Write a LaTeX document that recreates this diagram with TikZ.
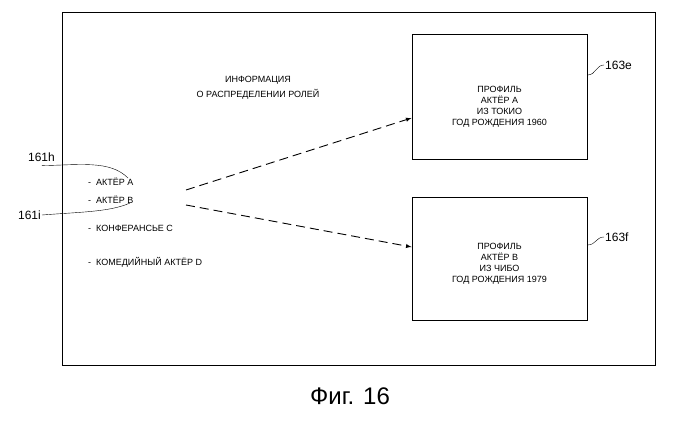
\documentclass[tikz,border=0pt]{standalone}
\usepackage{fontspec}
\setmainfont{Liberation Sans}
\begin{document}
\begin{tikzpicture}[x=1pt,y=-1pt,
  txt/.style={font=\fontsize{9}{11}\selectfont,inner sep=0pt},
  lbl/.style={font=\fontsize{12}{14}\selectfont,inner sep=1pt},
  box/.style={draw,line width=1pt},
  dasharrow/.style={dash pattern=on 9pt off 5pt,line width=0.9pt,-latex}]
\useasboundingbox (0,0) rectangle (699,422);
\draw[line width=0.9pt] (62,12) rectangle (655,365);
\node[box,minimum width=175pt,minimum height=125pt] (b1) at (499.5,97.5) {};
\node[box,minimum width=175pt,minimum height=122pt] (b2) at (499.5,259) {};
\node[txt,align=center] (t1) at (499.5,107) {ПРОФИЛЬ\\АКТЁР А\\ИЗ ТОКИО\\ГОД РОЖДЕНИЯ 1960};
\node[txt,align=center] (t2) at (499.5,264) {ПРОФИЛЬ\\АКТЁР В\\ИЗ ЧИБО\\ГОД РОЖДЕНИЯ 1979};
\node[txt,align=center] (h) at (258,88) {ИНФОРМАЦИЯ\\[4pt]О РАСПРЕДЕЛЕНИИ РОЛЕЙ};
\node[txt,anchor=west] (a) at (88,182) {-\ \ АКТЁР А};
\node[txt,anchor=west] (b) at (88,200) {-\ \ АКТЁР В};
\node[txt,anchor=west] (c) at (88,228) {-\ \ КОНФЕРАНСЬЕ С};
\node[txt,anchor=west] (d) at (88,262) {-\ \ КОМЕДИЙНЫЙ АКТЁР D};
\draw[dasharrow] (186,190) -- (b1.west |- 0,118);
\draw[dasharrow] (186,205) -- (b2.west |- 0,247);
\node[lbl,anchor=east] (l1) at (56,157) {161h};
\node[lbl,anchor=east] (l2) at (42,215) {161i};
\node[lbl,anchor=west] (l3) at (604,65) {163e};
\node[lbl,anchor=west] (l4) at (604,237) {163f};
\coordinate (pa) at (128,178);
\coordinate (pb) at (130,203);
\draw (l1.south west) ++(15,3) .. controls (80,165) and (110,160) .. (pa);
\draw (l2.east) .. controls (80,212) and (110,212) .. (pb);
\draw (b1.east |- 0,75) .. controls (596,75) and (596,65) .. (l3.west);
\draw (b2.east |- 0,245) .. controls (596,245) and (596,237) .. (l4.west);
\node[font=\fontsize{24}{28}\selectfont] (cap) at (350,396) {Фиг. 16};
\end{tikzpicture}
\end{document}
